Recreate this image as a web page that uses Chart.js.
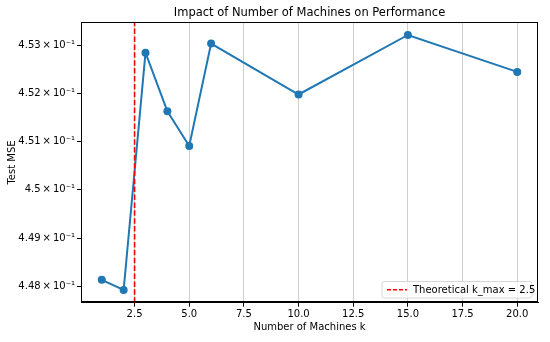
<!DOCTYPE html>
<html>
<head>
<meta charset="utf-8">
<script src="https://cdn.jsdelivr.net/npm/chart.js@4.4.1/dist/chart.umd.min.js"></script>
<style>
html,body{margin:0;padding:0;background:#fff;}
#wrap{width:550px;height:342px;position:relative;}
</style>
</head>
<body>
<div id="wrap"><canvas id="c" width="550" height="342"></canvas></div>
<script>
// ---- data ----
const machines = [1, 2, 3, 4, 5, 6, 10, 15, 20];
const testMSE = [0.44814, 0.44793, 0.45285, 0.45163, 0.45091, 0.45304, 0.45198, 0.45322, 0.45245];
const kMax = 2.5;
const xTicks = [2.5, 5.0, 7.5, 10.0, 12.5, 15.0, 17.5, 20.0];
const yTicks = [0.448, 0.449, 0.450, 0.451, 0.452, 0.453];
const titleText = 'Impact of Number of Machines on Performance';
const xLabel = 'Number of Machines k';
const yLabel = 'Test MSE';
const legendLabel = 'Theoretical k_max = 2.5';

const FONT = "'DejaVu Sans', sans-serif";
const xMin = 0.05, xMax = 20.95;
const yMin = 0.447668, yMax = 0.453485;

function fmtY(v) {
  const m = parseFloat((v * 10).toFixed(2)).toString();
  return m + '\u2009\u00D7\u200910\u207B\u00B9';
}

const framePlugin = {
  id: 'frame',
  afterDraw(chart) {
    const ctx = chart.ctx, a = chart.chartArea;
    ctx.save();
    // frame
    ctx.strokeStyle = '#000';
    ctx.lineWidth = 1;
    ctx.strokeRect(Math.round(a.left) + 0.5, Math.round(a.top) + 0.5, Math.round(a.right - a.left) - 1, Math.round(a.bottom - a.top) - 1);
    // title
    ctx.fillStyle = '#000';
    ctx.font = '11.5px ' + FONT;
    ctx.textAlign = 'center';
    ctx.textBaseline = 'middle';
    ctx.fillText(titleText, (a.left + a.right) / 2, 13.3);
    // legend
    const bx = 382, by = 281.5, bw = 150, bh = 16.5, r = 2.5;
    ctx.beginPath();
    ctx.moveTo(bx + r, by);
    ctx.lineTo(bx + bw - r, by); ctx.quadraticCurveTo(bx + bw, by, bx + bw, by + r);
    ctx.lineTo(bx + bw, by + bh - r); ctx.quadraticCurveTo(bx + bw, by + bh, bx + bw - r, by + bh);
    ctx.lineTo(bx + r, by + bh); ctx.quadraticCurveTo(bx, by + bh, bx, by + bh - r);
    ctx.lineTo(bx, by + r); ctx.quadraticCurveTo(bx, by, bx + r, by);
    ctx.closePath();
    ctx.fillStyle = 'rgba(255,255,255,0.8)';
    ctx.fill();
    ctx.strokeStyle = '#d6d6d6';
    ctx.lineWidth = 1;
    ctx.stroke();
    const ly = by + bh / 2;
    ctx.strokeStyle = 'red';
    ctx.lineWidth = 1.5;
    ctx.setLineDash([4, 2]);
    ctx.beginPath(); ctx.moveTo(bx + 5, ly); ctx.lineTo(bx + 25, ly); ctx.stroke();
    ctx.setLineDash([]);
    ctx.fillStyle = '#000';
    ctx.font = '10px ' + FONT;
    ctx.textAlign = 'left';
    ctx.fillText(legendLabel, bx + 31, ly + 0.5);
    ctx.restore();
  }
};

new Chart(document.getElementById('c'), {
  type: 'line',
  data: {
    datasets: [
      {
        label: legendLabel,
        data: [{x: kMax, y: yMin}, {x: kMax, y: yMax}],
        borderColor: 'red',
        borderWidth: 1.6,
        borderDash: [5.5, 2.4],
        pointRadius: 0,
        order: 0,
        tension: 0
      },
      {
        label: yLabel,
        data: machines.map((m, i) => ({x: m, y: testMSE[i]})),
        borderColor: '#1f77b4',
        backgroundColor: '#1f77b4',
        borderWidth: 2,
        pointRadius: 4,
        pointBorderWidth: 0,
        pointBackgroundColor: '#1f77b4',
        order: 1,
        tension: 0
      }
    ]
  },
  options: {
    responsive: false,
    animation: false,
    devicePixelRatio: 1,
    layout: {padding: {top: 22.3, right: 12, bottom: 0, left: 0}},
    plugins: {legend: {display: false}, title: {display: false}, tooltip: {enabled: false}},
    scales: {
      x: {
        type: 'linear',
        min: xMin, max: xMax,
        afterBuildTicks(s) { s.ticks = xTicks.map(v => ({value: v})); },
        afterFit(s) { s.height = 39.3; },
        ticks: {
          color: '#000', font: {family: FONT, size: 10}, padding: 2,
          maxRotation: 0, autoSkip: false,
          callback: v => Number(v).toFixed(1)
        },
        grid: {color: '#cfcfcf', lineWidth: 1, drawTicks: true, tickLength: 4, tickColor: '#000', tickWidth: 1},
        border: {display: true, color: '#000', width: 1},
        title: {display: true, text: xLabel, color: '#000', font: {family: FONT, size: 10}, padding: {top: 0, bottom: 9}}
      },
      y: {
        type: 'logarithmic',
        min: yMin, max: yMax,
        afterBuildTicks(s) { s.ticks = yTicks.map(v => ({value: v})); },
        afterFit(s) { s.width = 81; },
        ticks: {
          color: '#000', font: {family: FONT, size: 10}, padding: 2, autoSkip: false,
          callback: v => fmtY(v)
        },
        grid: {drawOnChartArea: false, drawTicks: true, tickLength: 4, tickColor: '#000', tickWidth: 1},
        border: {display: true, color: '#000', width: 1},
        title: {display: true, text: yLabel, color: '#000', font: {family: FONT, size: 10}, padding: {top: 6, bottom: 0}}
      }
    }
  },
  plugins: [framePlugin]
});
</script>
</body>
</html>
